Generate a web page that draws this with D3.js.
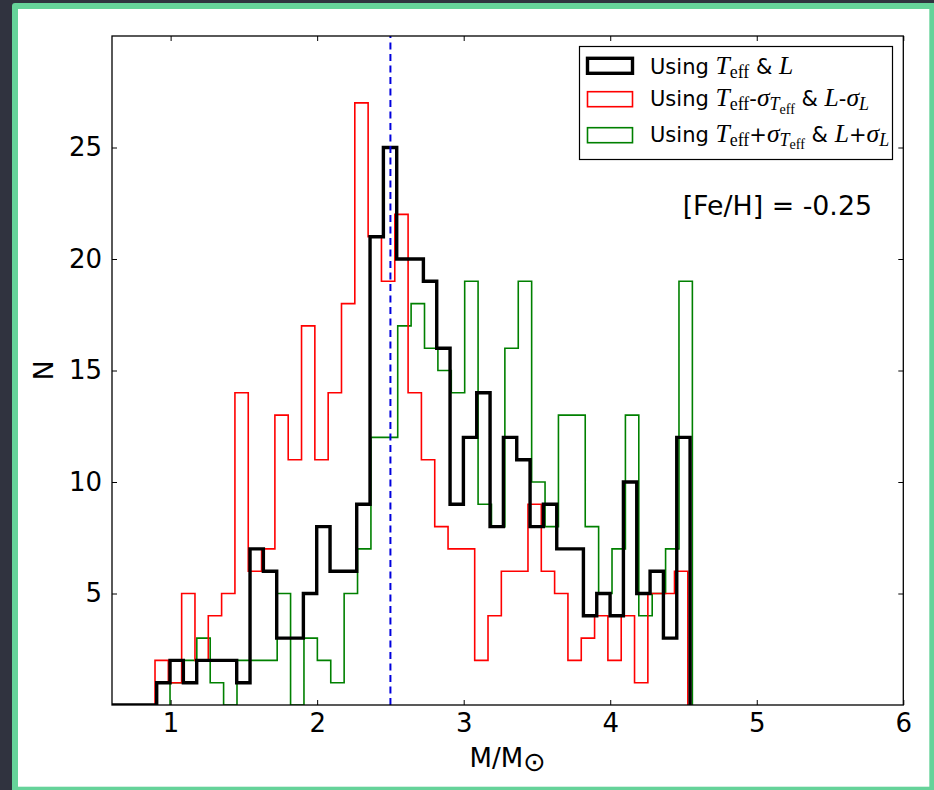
<!DOCTYPE html>
<html><head><meta charset="utf-8">
<script src="https://cdn.jsdelivr.net/npm/d3@7"></script>
<style>html,body{margin:0;padding:0;background:#30333f;overflow:hidden}svg{display:block}</style>
</head><body>
<svg id="chart" width="934" height="790"></svg>
<script>
// ---- data ----
const xTicks = [1, 2, 3, 4, 5, 6];
const yTicks = [5, 10, 15, 20, 25];
const xDomain = [0.6, 6];
const yDomain = [0, 30];
const meanMass = 2.5;
const blackStart = 0.541, blackWidth = 0.091;
const blackCounts = [0,0,0,0, 1,2,1,2,2,2,1,7,6,3, 3,5,8,6,6,9,21,25,20,20, 19,16,9,12,14,8,12,11,8,9, 7,7,4,5,4,10,5,6,3,12];
const redStart = 0.8935, redWidth = 0.0909;
const redCounts = [2,1,5,2,4,5,14,6,7,13, 11,17,11,14,18,27,21,19,22,14, 11,8,7,7,2,4,6,6,9,6, 5,2,3,4,2,4,1,5,5,6];
const greenStart = 0.996, greenWidth = 0.0914;
const greenCounts = [1,2,3,1,0,2,2,2,5,0, 3,2,1,5,7,12,12,17,18,16, 15,14,19,9,8,16,19,10,8,13, 13,8,5,7,13,4,5,7,19];
const annotation = "[Fe/H] = -0.25";
const xLabel = "M/M";
const yLabel = "N";

// ---- layout ----
const svg = d3.select("#chart");
const L = 112, R = 903.3, T = 36, B = 705;
const x = d3.scaleLinear().domain(xDomain).range([L, R]);
const y = d3.scaleLinear().domain(yDomain).range([B, T]);
const SANS = "'DejaVu Sans', sans-serif";
const SERIF = "'Liberation Serif', 'DejaVu Serif', serif";

// frame
svg.append("rect").attr("x", 0).attr("y", 0).attr("width", 934).attr("height", 790).attr("fill", "#30333f");
svg.append("rect").attr("x", 12).attr("y", 3).attr("width", 930).attr("height", 795).attr("rx", 3).attr("fill", "#66d39a");
svg.append("rect").attr("x", 18).attr("y", 9).attr("width", 911.3).attr("height", 777.7).attr("fill", "#ffffff");

// clip
svg.append("clipPath").attr("id", "clip").append("rect")
  .attr("x", L).attr("y", T).attr("width", R - L).attr("height", B - T);

function stepPoints(start, width, counts) {
  const pts = [[start, 0]];
  counts.forEach((c, i) => {
    pts.push([start + i * width, c]);
    pts.push([start + (i + 1) * width, c]);
  });
  pts.push([start + counts.length * width, 0]);
  return pts;
}
const line = d3.line().x(d => x(d[0])).y(d => y(d[1]));
const plot = svg.append("g").attr("clip-path", "url(#clip)");
const series = [
  {start: greenStart, width: greenWidth, counts: greenCounts, color: "#008000", lw: 1.6},
  {start: redStart, width: redWidth, counts: redCounts, color: "#ff0000", lw: 1.6},
  {start: blackStart, width: blackWidth, counts: blackCounts, color: "#000000", lw: 3.4}
];
series.forEach(s => {
  plot.append("path").attr("d", line(stepPoints(s.start, s.width, s.counts)))
    .attr("fill", "none").attr("stroke", s.color).attr("stroke-width", s.lw)
    .attr("stroke-linejoin", "miter");
});
// mean line
plot.append("line").attr("x1", x(meanMass)).attr("x2", x(meanMass))
  .attr("y1", y(yDomain[0])).attr("y2", y(yDomain[1]))
  .attr("stroke", "#0000dd").attr("stroke-width", 2).attr("stroke-dasharray", "7,4.5");

// axes
const fontTick = 26;
const gx = svg.append("g").attr("transform", `translate(0,${B})`)
  .call(d3.axisBottom(x).tickValues(xTicks).tickFormat(d3.format("d")).tickSizeInner(-5).tickSizeOuter(0).tickPadding(9));
const gxt = svg.append("g").attr("transform", `translate(0,${T})`)
  .call(d3.axisTop(x).tickValues(xTicks).tickFormat("").tickSizeInner(-5).tickSizeOuter(0));
const gy = svg.append("g").attr("transform", `translate(${L},0)`)
  .call(d3.axisLeft(y).tickValues(yTicks).tickSizeInner(-5).tickSizeOuter(0).tickPadding(10));
const gyr = svg.append("g").attr("transform", `translate(${R},0)`)
  .call(d3.axisRight(y).tickValues(yTicks).tickFormat("").tickSizeInner(-5).tickSizeOuter(0));
[gx, gxt, gy, gyr].forEach(g => {
  g.select(".domain").remove();
  g.selectAll("line").attr("stroke", "#000").attr("stroke-width", 1);
  g.selectAll("text").attr("font-family", SANS).attr("font-size", fontTick).attr("fill", "#000");
});
svg.append("rect").attr("x", L).attr("y", T).attr("width", R - L).attr("height", B - T)
  .attr("fill", "none").attr("stroke", "#000").attr("stroke-width", 1.3);

// axis labels
const xl = svg.append("text").attr("x", (L + R) / 2).attr("y", 767).attr("text-anchor", "middle")
  .attr("font-family", SANS).attr("font-size", 26).attr("fill", "#000");
xl.append("tspan").text(xLabel);
xl.append("tspan").text("\u2299").attr("dy", 4).attr("font-size", 27);
svg.append("text").attr("transform", `translate(53,${(T + B) / 2}) rotate(-90)`).attr("text-anchor", "middle")
  .attr("font-family", SANS).attr("font-size", 27).attr("fill", "#000").text(yLabel);

// annotation
svg.append("text").attr("x", 872).attr("y", 215).attr("text-anchor", "end").attr("font-family", SANS).attr("font-size", 26.8)
  .attr("fill", "#000").text(annotation);

// legend
const legend = svg.append("g");
legend.append("rect").attr("x", 579.5).attr("y", 46.5).attr("width", 313).attr("height", 113)
  .attr("fill", "#fff").attr("stroke", "#000").attr("stroke-width", 1.2);
const legendRows = [
  {color: "#000000", lw: 3.4, py: 58.3, ty: 73.5, segs: [
    {t: "Using ", f: "sans"}, {t: "T", f: "it"}, {t: "eff", f: "rm", l: 1}, {t: " & ", f: "sans"}, {t: "L", f: "it"}]},
  {color: "#ff0000", lw: 1.6, py: 91.7, ty: 106, segs: [
    {t: "Using ", f: "sans"}, {t: "T", f: "it"}, {t: "eff", f: "rm", l: 1}, {t: "-", f: "sans"}, {t: "\u03c3", f: "it"},
    {t: "T", f: "it", l: 1}, {t: "eff", f: "rm", l: 2}, {t: " & ", f: "sans"}, {t: "L", f: "it"}, {t: "-", f: "sans"},
    {t: "\u03c3", f: "it"}, {t: "L", f: "it", l: 1}]},
  {color: "#008000", lw: 1.6, py: 127.7, ty: 141.8, segs: [
    {t: "Using ", f: "sans"}, {t: "T", f: "it"}, {t: "eff", f: "rm", l: 1}, {t: "+", f: "sans"}, {t: "\u03c3", f: "it"},
    {t: "T", f: "it", l: 1}, {t: "eff", f: "rm", l: 2}, {t: " & ", f: "sans"}, {t: "L", f: "it"}, {t: "+", f: "sans"},
    {t: "\u03c3", f: "it"}, {t: "L", f: "it", l: 1}]}
];
const base = 21, off = [0, 4, 7.5], scl = [1, 0.7, 0.55];
legendRows.forEach(r => {
  legend.append("rect").attr("x", 587.5).attr("y", r.py).attr("width", 45).attr("height", 15)
    .attr("fill", "none").attr("stroke", r.color).attr("stroke-width", r.lw);
  const t = legend.append("text").attr("x", 650).attr("y", r.ty).attr("fill", "#000").style("white-space", "pre");
  let prev = 0;
  r.segs.forEach(s => {
    const lvl = s.l || 0;
    const sz = base * scl[lvl] * (s.f === "sans" ? 1 : 1.22);
    t.append("tspan").text(s.t).attr("dy", off[lvl] - off[prev])
      .attr("font-size", sz)
      .attr("font-family", s.f === "sans" ? SANS : SERIF)
      .attr("font-style", s.f === "it" ? "italic" : "normal");
    prev = lvl;
  });
});
</script>
</body></html>
